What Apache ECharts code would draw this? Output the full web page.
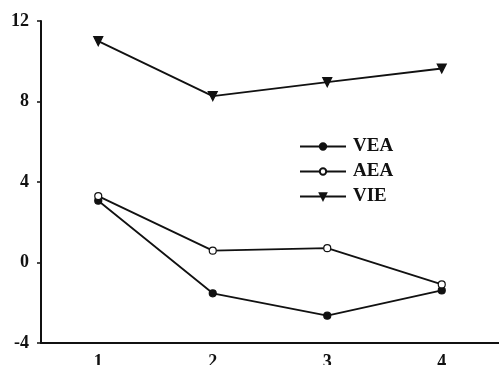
<!DOCTYPE html>
<html>
<head>
<meta charset="utf-8">
<script src="https://cdn.jsdelivr.net/npm/echarts@6/dist/echarts.min.js"></script>
<style>html,body{margin:0;padding:0;background:#fff}#c{width:499px;height:365px}</style>
</head>
<body>
<div id="c"></div>
<script>
var categories = ['1', '2', '3', '4'];
var vea = [3.07, -1.53, -2.64, -1.39];
var aea = [3.3, 0.59, 0.71, -1.09];
var vie = [11.0, 8.27, 8.96, 9.64];
var yTicks = [-4, 0, 4, 8, 12];

var font = '"Liberation Serif", "Times New Roman", serif';
var chart = echarts.init(document.getElementById('c'));
function mk(name, data, symbol, fill, rot) {
  return {
    name: name, type: 'line', data: data, symbol: symbol, symbolSize: symbol === 'triangle' ? 9 : 7,
    symbolRotate: rot || 0, showAllSymbol: true,
    lineStyle: {color: '#111', width: 1.8},
    itemStyle: {color: fill, borderColor: '#111', borderWidth: 1.2},
    emphasis: {disabled: true}, animation: false
  };
}
chart.setOption({
  animation: false,
  grid: {left: 41, right: 0, top: 21, bottom: 22, containLabel: false, outerBoundsMode: 'none'},
  legend: {
    orient: 'vertical', left: 294, top: 132, itemWidth: 46, itemHeight: 8, itemGap: 6,
    textStyle: {fontFamily: font, fontWeight: 'bold', fontSize: 19, lineHeight: 19, color: '#111', padding: [0, 0, 0, 2]},
    data: ['VEA', 'AEA', 'VIE']
  },
  xAxis: {
    type: 'category', data: categories, boundaryGap: true,
    axisLine: {onZero: false, lineStyle: {color: '#111', width: 2}},
    axisTick: {alignWithLabel: true, length: 4, lineStyle: {color: '#111', width: 1.5}},
    axisLabel: {margin: 10, fontFamily: font, fontWeight: 'bold', fontSize: 18, color: '#111'},
    splitLine: {show: false}
  },
  yAxis: {
    type: 'value', min: -4, max: 12, interval: 4,
    axisLine: {show: true, lineStyle: {color: '#111', width: 2}},
    axisTick: {show: true, length: 4, lineStyle: {color: '#111', width: 1.5}},
    axisLabel: {margin: 12, fontFamily: font, fontWeight: 'bold', fontSize: 18, color: '#111',
      formatter: function (v) { return yTicks.indexOf(v) >= 0 ? String(v) : ''; }},
    splitLine: {show: false}
  },
  series: [
    mk('VEA', vea, 'circle', '#111'),
    mk('AEA', aea, 'circle', '#fff'),
    mk('VIE', vie, 'triangle', '#111', 180)
  ]
});
</script>
</body>
</html>
